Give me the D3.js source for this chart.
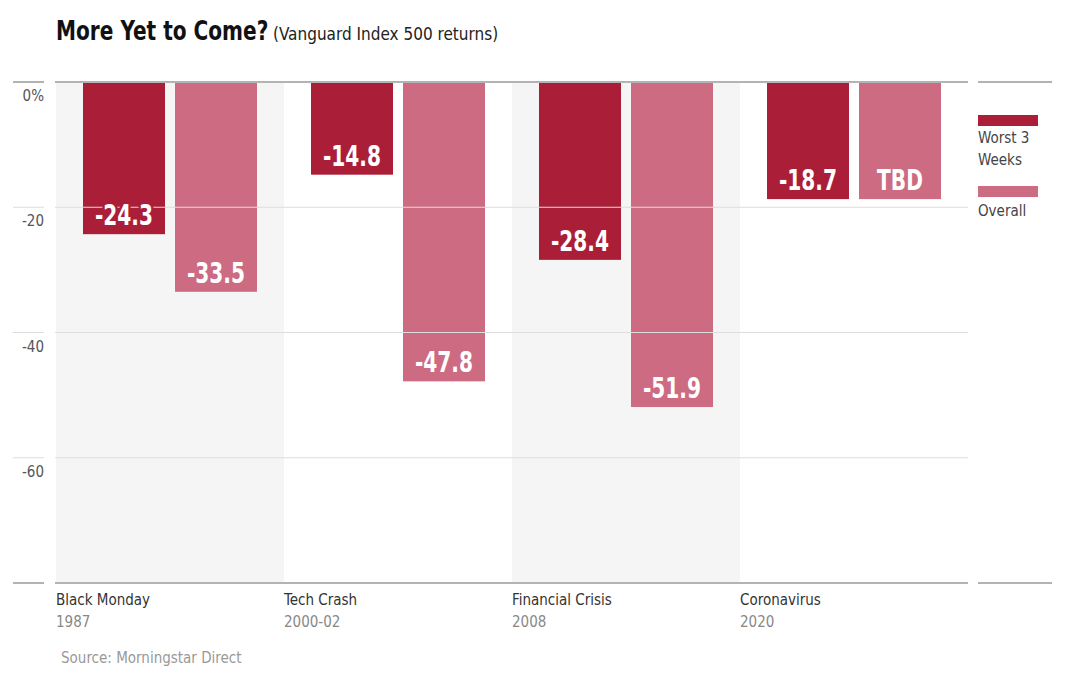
<!DOCTYPE html>
<html>
<head>
<meta charset="utf-8">
<script src="https://cdn.jsdelivr.net/npm/d3@7"></script>
<style>
body { margin: 0; background: #fff; }
text { font-family: "DejaVu Sans Condensed", "DejaVu Sans", sans-serif; font-stretch: condensed; }
</style>
</head>
<body>
<div id="chart"></div>
<script>
var width = 1065;
var height = 678;

// data
var categories = ["Black Monday", "Tech Crash", "Financial Crisis", "Coronavirus"];
var years = ["1987", "2000-02", "2008", "2020"];
var worst3Weeks = [-24.3, -14.8, -28.4, -18.7];
var overall = [-33.5, -47.8, -51.9, -18.7];
var overallLabels = ["-33.5", "-47.8", "-51.9", "TBD"];
var yTicks = [0, -20, -40, -60];
var seriesNames = ["Worst 3 Weeks", "Overall"];
var colors = ["#ab1e38", "#cd6b82"];

var svg = d3.select("#chart").append("svg")
    .attr("width", width)
    .attr("height", height);

var xScale = d3.scaleBand().domain(categories).range([56, 968]);
var inner = d3.scaleBand().domain(seriesNames).range([27, xScale.bandwidth() - 27])
    .paddingInner(2 - 174 / 92);
var yScale = d3.scaleLinear().domain([-80, 0]).range([583, 82]);

// background bands for every other group
svg.selectAll("rect.band")
    .data(categories.filter(function(d, i) { return i % 2 == 0; }))
    .enter().append("rect")
    .attr("class", "band")
    .attr("x", function(d) { return xScale(d); })
    .attr("y", yScale(0))
    .attr("width", xScale.bandwidth())
    .attr("height", yScale(-80) - yScale(0))
    .attr("fill", "#f5f5f5");

// bars
var rows = categories.map(function(c, i) {
    return [
        { cat: c, s: seriesNames[0], v: worst3Weeks[i], label: worst3Weeks[i].toFixed(1) },
        { cat: c, s: seriesNames[1], v: overall[i], label: overallLabels[i] }
    ];
});
var flat = [].concat.apply([], rows);

svg.selectAll("rect.bar")
    .data(flat)
    .enter().append("rect")
    .attr("class", "bar")
    .attr("x", function(d) { return xScale(d.cat) + inner(d.s); })
    .attr("y", yScale(0))
    .attr("width", inner.bandwidth())
    .attr("height", function(d) { return yScale(d.v) - yScale(0); })
    .attr("fill", function(d) { return colors[seriesNames.indexOf(d.s)]; });

// grid lines (drawn over bars)
var grid = svg.append("g");
yTicks.concat([-80]).forEach(function(t) {
    var edge = (t == 0 || t == -80);
    var col = edge ? "#b3b3b3" : "#dddddd";
    var sw = edge ? 2 : 1;
    grid.append("line").attr("x1", 13).attr("x2", 44)
        .attr("y1", yScale(t)).attr("y2", yScale(t))
        .attr("stroke", col).attr("stroke-width", sw);
    grid.append("line").attr("x1", 55).attr("x2", 968)
        .attr("y1", yScale(t)).attr("y2", yScale(t))
        .attr("stroke", col).attr("stroke-width", sw);
    if (edge) {
        grid.append("line").attr("x1", 978).attr("x2", 1052)
            .attr("y1", yScale(t)).attr("y2", yScale(t))
            .attr("stroke", col).attr("stroke-width", sw);
    }
});

// y tick labels
svg.selectAll("text.ytick")
    .data(yTicks)
    .enter().append("text")
    .attr("class", "ytick")
    .attr("x", 44)
    .attr("y", function(d) { return yScale(d) + 19; })
    .attr("text-anchor", "end")
    .attr("fill", "#555")
    .style("font-size", "15px")
    .text(function(d) { return d == 0 ? "0%" : d; });

// value labels with halo in bar colour (squeezed to look condensed)
svg.selectAll("text.val")
    .data(flat)
    .enter().append("text")
    .attr("class", "val")
    .attr("transform", function(d) {
        var x = xScale(d.cat) + inner(d.s) + inner.bandwidth() / 2;
        return "translate(" + x + "," + (yScale(d.v) - 9) + ") scale(0.8,1)";
    })
    .attr("text-anchor", "middle")
    .attr("fill", "#fff")
    .attr("stroke", function(d) { return colors[seriesNames.indexOf(d.s)]; })
    .attr("stroke-width", 6)
    .attr("paint-order", "stroke")
    .style("font-size", "28px")
    .style("font-weight", "bold")
    .text(function(d) { return d.label; });

// category labels
svg.selectAll("text.cat")
    .data(categories)
    .enter().append("text")
    .attr("class", "cat")
    .attr("x", function(d) { return xScale(d); })
    .attr("y", 605)
    .attr("fill", "#333")
    .style("font-size", "15px")
    .text(function(d) { return d; });

svg.selectAll("text.year")
    .data(categories)
    .enter().append("text")
    .attr("class", "year")
    .attr("x", function(d) { return xScale(d); })
    .attr("y", 627)
    .attr("fill", "#888")
    .style("font-size", "15px")
    .text(function(d, i) { return years[i]; });

// legend
var legend = svg.append("g").attr("transform", "translate(978,0)");
legend.append("rect").attr("x", 0).attr("y", 115).attr("width", 60).attr("height", 11).attr("fill", colors[0]);
legend.append("text").attr("x", 0).attr("y", 143).attr("fill", "#444").style("font-size", "15px").text("Worst 3");
legend.append("text").attr("x", 0).attr("y", 165).attr("fill", "#444").style("font-size", "15px").text("Weeks");
legend.append("rect").attr("x", 0).attr("y", 186).attr("width", 60).attr("height", 11).attr("fill", colors[1]);
legend.append("text").attr("x", 0).attr("y", 216).attr("fill", "#444").style("font-size", "15px").text("Overall");

// title
svg.append("text")
    .attr("transform", "translate(56,40) scale(0.86,1)")
    .style("font-size", "26px")
    .style("font-weight", "bold")
    .attr("fill", "#111")
    .text("More Yet to Come?");
svg.append("text")
    .attr("x", 273)
    .attr("y", 40)
    .style("font-size", "17px")
    .attr("fill", "#222")
    .text("(Vanguard Index 500 returns)");

// source
svg.append("text")
    .attr("x", 61)
    .attr("y", 663)
    .attr("fill", "#999")
    .style("font-size", "15px")
    .text("Source: Morningstar Direct");
</script>
</body>
</html>
